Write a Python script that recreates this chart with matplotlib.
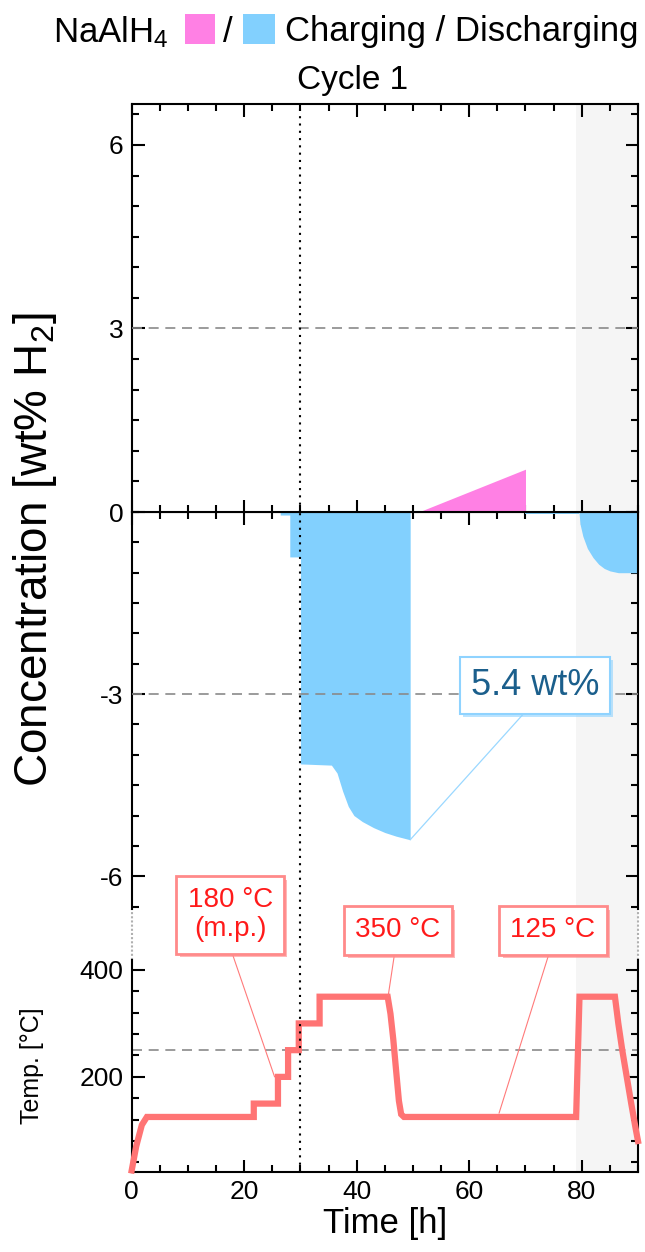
import matplotlib
matplotlib.use("Agg")
import matplotlib.pyplot as plt
import matplotlib.patheffects as pe
from matplotlib.patches import Rectangle
from matplotlib.ticker import MultipleLocator

plt.rcParams.update({
    "font.family": ["Liberation Sans", "DejaVu Sans"],
    "mathtext.fontset": "custom",
    "mathtext.rm": "Liberation Sans",
    "mathtext.it": "Liberation Sans:italic",
    "axes.linewidth": 1.5,
    "axes.unicode_minus": False,
})

# ---------------------------------------------------------------------------
# Data
# ---------------------------------------------------------------------------

# discharging during the first heating ramp (wt% H2, negative = released)
discharge_t = [26.4, 28.1, 28.1, 30.0, 30.0, 35.5, 36.5, 37.5, 38.5, 39.5,
               41.0, 43.0, 45.0, 47.0, 49.5]
discharge_c = [-0.05, -0.05, -0.74, -0.74, -4.15, -4.17, -4.3, -4.6, -4.85,
               -5.0, -5.1, -5.2, -5.28, -5.34, -5.4]

# small residual signal before the second heating
trickle_t = [70.0, 79.5]
trickle_c = [-0.04, -0.04]

# discharging during the second heating
discharge2_t = [79.5, 79.7, 80.2, 81.0, 82.0, 83.0, 84.0, 85.0, 86.5, 90.0]
discharge2_c = [0.0, -0.2, -0.4, -0.6, -0.75, -0.86, -0.93, -0.97, -1.0, -1.0]

# charging at 125 degC
charge_t = [51.0, 70.0]
charge_c = [0.0, 0.7]

# temperature programme
temp_t = [0, 0.8, 1.8, 2.7, 21.7, 21.7, 26.0, 26.0, 27.8, 27.8, 29.7, 29.7,
          33.4, 33.4, 45.5, 46.0, 46.5, 47.0, 47.5, 47.9, 48.4, 79.0, 79.6,
          85.9, 86.5, 87.2, 88.0, 88.8, 89.5, 90.0]
temp_T = [25, 70, 110, 125, 125, 150, 150, 200, 200, 250, 250, 300, 300, 350,
          350, 318, 270, 212, 155, 130, 125, 125, 350, 350, 300, 250, 200, 150,
          108, 80]

capacity_label = "5.4 wt%"
capacity_value = -5.4
capacity_t = 49.5

# ---------------------------------------------------------------------------
# Layout (pixel based)
# ---------------------------------------------------------------------------

W_PX, H_PX = 645, 1252
LEFT, RIGHT = 131.7, 638.0
Y_TOP, Y_ZERO, Y_MID_BOT, Y_TMP_TOP, Y_BOT = 104, 512, 909, 960, 1172

BLUE = "#82d0fe"
PINK = "#ff80e4"
RED_LINE = "#ff7474"
RED_TEXT = "#ff1a1a"
RED_EDGE = "#ff8a8a"
GREY_DASH = "#8a8a8a"
SHADE = "#f5f5f5"


def fig_rect(top, bottom):
    return [LEFT / W_PX, 1 - bottom / H_PX, (RIGHT - LEFT) / W_PX,
            (bottom - top) / H_PX]


fig = plt.figure(figsize=(W_PX / 100, H_PX / 100), dpi=100)

ax_bg = fig.add_axes(fig_rect(Y_TOP, Y_BOT), zorder=0)
ax_top = fig.add_axes(fig_rect(Y_TOP, Y_ZERO), zorder=1)
ax_mid = fig.add_axes(fig_rect(Y_ZERO, Y_MID_BOT), zorder=1)
ax_tmp = fig.add_axes(fig_rect(Y_TMP_TOP, Y_BOT), zorder=2)

# background: shaded second cycle, gap connectors
ax_bg.set_xlim(0, 90)
ax_bg.set_ylim(0, 1)
ax_bg.axis("off")
ax_bg.axvspan(79, 90, color=SHADE, lw=0)
gap_lo = (Y_BOT - Y_TMP_TOP) / (Y_BOT - Y_TOP)
gap_hi = (Y_BOT - Y_MID_BOT) / (Y_BOT - Y_TOP)
for xx in (0, 90):
    ax_bg.plot([xx, xx], [gap_lo, gap_hi], color="#b0b0b0", lw=1.5,
               ls=(0, (1, 1)), clip_on=False)
ax_bg.plot([30, 30], [gap_lo, gap_hi], color="black", lw=1.5,
           ls=(0, (1, 2.5)), clip_on=False)

for ax in (ax_top, ax_mid, ax_tmp):
    ax.patch.set_alpha(0)
    ax.set_xlim(0, 90)
    ax.xaxis.set_major_locator(MultipleLocator(20))
    ax.xaxis.set_minor_locator(MultipleLocator(5))
    ax.tick_params(which="both", direction="in", top=True, right=True,
                   width=1.5, labelsize=19, pad=6)
    ax.tick_params(which="major", length=9)
    ax.tick_params(which="minor", length=5)
    ax.axvline(30, color="black", lw=1.5, ls=(0, (1, 2.5)), zorder=5)

# concentration, upper half (charging)
ax_top.set_ylim(0, 6.67)
ax_top.yaxis.set_major_locator(MultipleLocator(3))
ax_top.yaxis.set_minor_locator(MultipleLocator(0.5))
ax_top.tick_params(labelbottom=False)
ax_top.spines["bottom"].set_visible(False)
ax_top.fill_between(charge_t, charge_c, 0, color=PINK, lw=0, zorder=2)
ax_top.axhline(3, color=GREY_DASH, lw=1.2, ls=(0, (6, 4)), zorder=3)

# concentration, lower half (discharging)
ax_mid.set_ylim(-6.54, 0)
ax_mid.yaxis.set_major_locator(MultipleLocator(3))
ax_mid.yaxis.set_minor_locator(MultipleLocator(0.5))
ax_mid.set_yticks([-6, -3])
ax_mid.tick_params(bottom=False, labelbottom=False)
ax_mid.tick_params(which="minor", bottom=False)
ax_mid.spines["bottom"].set_visible(False)
ax_mid.fill_between(discharge_t, discharge_c, 0, color=BLUE, lw=0, zorder=2)
ax_mid.fill_between(trickle_t, trickle_c, 0, color=BLUE, lw=0, zorder=2)
ax_mid.fill_between(discharge2_t, discharge2_c, 0, color=BLUE, lw=0, zorder=2)
ax_mid.axhline(-3, color=GREY_DASH, lw=1.2, ls=(0, (6, 4)), zorder=3)
ax_mid.axhline(0, color="black", lw=1.5, zorder=4)

cap = ax_mid.annotate(
    capacity_label, xy=(capacity_t, capacity_value), xytext=(71.7, -2.86),
    ha="center", va="center", fontsize=26, color="#1b5f8c",
    bbox=dict(boxstyle="square,pad=0.3", fc="white", ec="#8fd3ff", lw=1.5),
    arrowprops=dict(arrowstyle="-", color="#9ad8ff", lw=0.9, shrinkA=0,
                    shrinkB=0, relpos=(0.485, 0.0)),
    zorder=6)
cap.get_bbox_patch().set_path_effects(
    [pe.withSimplePatchShadow(offset=(2, -2), shadow_rgbFace="#8fd3ff",
                              alpha=0.6)])

# temperature programme
ax_tmp.set_ylim(22, 418.7)
ax_tmp.yaxis.set_major_locator(MultipleLocator(200))
ax_tmp.yaxis.set_minor_locator(MultipleLocator(40))
ax_tmp.tick_params(top=False)
ax_tmp.tick_params(which="minor", top=False)
ax_tmp.spines["top"].set_visible(False)
ax_tmp.axhline(250, color=GREY_DASH, lw=1.2, ls=(0, (6, 4)), zorder=2)
ax_tmp.plot(temp_t, temp_T, color=RED_LINE, lw=4.5, solid_joinstyle="miter",
            zorder=3, clip_on=False)

temp_notes = [
    ("180 °C\n(m.p.)", (25.4, 200), (17.5, 503), 0.48),
    ("350 °C", (45.6, 352), (47.3, 474), 0.48),
    ("125 °C", (65.3, 132), (74.9, 474), 0.49),
]
for text, xy, xytext, rel in temp_notes:
    an = ax_tmp.annotate(
        text, xy=xy, xytext=xytext, ha="center", va="center", fontsize=20,
        color=RED_TEXT, linespacing=1.15, annotation_clip=False,
        bbox=dict(boxstyle="square,pad=0.4", fc="white", ec=RED_EDGE, lw=2),
        arrowprops=dict(arrowstyle="-", color="#ff7a7a", lw=0.8, shrinkA=0,
                        shrinkB=0, relpos=(rel, 0.0)),
        zorder=6)
    an.get_bbox_patch().set_path_effects(
        [pe.withSimplePatchShadow(offset=(2.5, -2.5), shadow_rgbFace=RED_EDGE,
                                  alpha=0.6)])

ax_tmp.set_xlabel("Time [h]", fontsize=25, labelpad=2)

# axis titles
fig.text(35 / W_PX, 1 - 550 / H_PX, "Concentration [wt% H$_2$]", rotation=90,
         ha="center", va="center", fontsize=33)
fig.text(32 / W_PX, 1 - 1066 / H_PX, "Temp. [°C]", rotation=90,
         ha="center", va="center", fontsize=18)

# legend-style heading
fig.text(168 / W_PX, 1 - 32 / H_PX, "NaAlH$_4$", ha="right", va="center",
         fontsize=25)
fig.add_artist(Rectangle((185 / W_PX, 1 - 44 / H_PX), 30 / W_PX, 30 / H_PX,
                         transform=fig.transFigure, color=PINK, lw=0))
fig.text(228 / W_PX, 1 - 32 / H_PX, "/", ha="center", va="center", fontsize=25)
fig.add_artist(Rectangle((243 / W_PX, 1 - 44 / H_PX), 32 / W_PX, 30 / H_PX,
                         transform=fig.transFigure, color=BLUE, lw=0))
fig.text(285 / W_PX, 1 - 32 / H_PX, "Charging / Discharging", ha="left",
         va="center", fontsize=25)
fig.text(353 / W_PX, 1 - 80 / H_PX, "Cycle 1", ha="center", va="center",
         fontsize=24)

fig.savefig("out.png", dpi=100, facecolor="white")
